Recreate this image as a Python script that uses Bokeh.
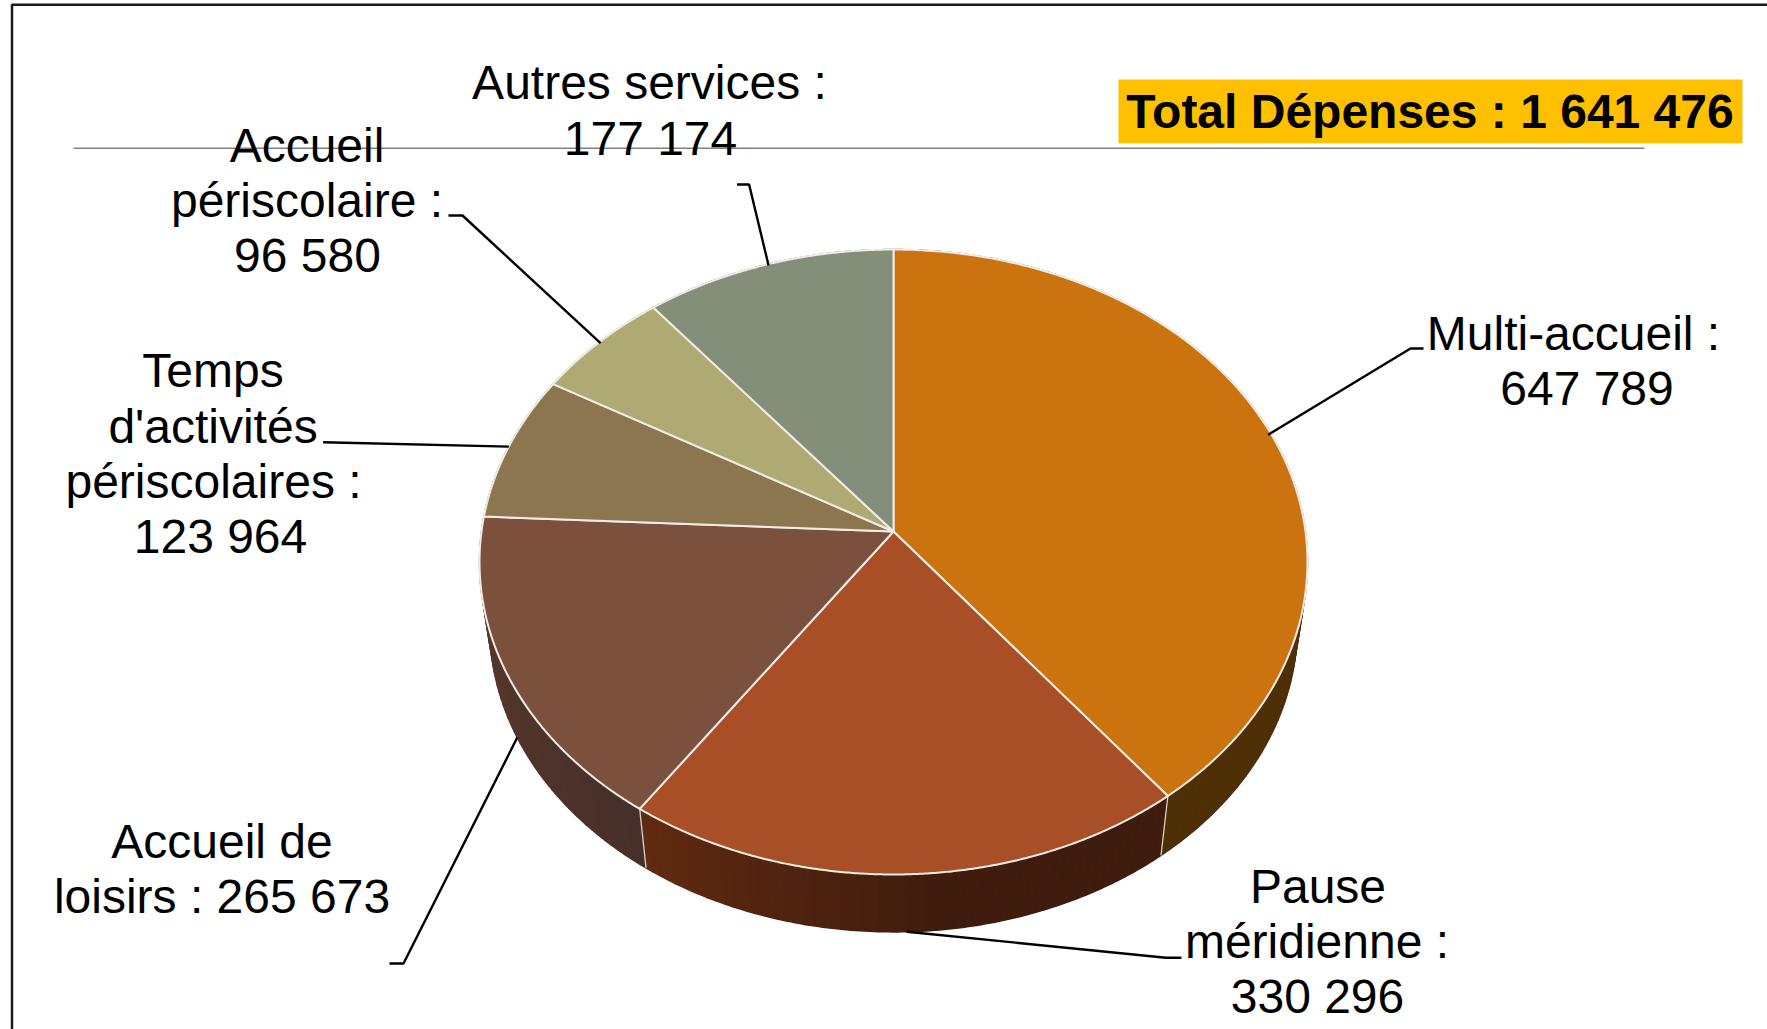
import numpy as np
from bokeh.plotting import figure
from bokeh.models import Range1d, ColumnDataSource
from bokeh.core.properties import value
from bokeh.embed import file_html
from bokeh.resources import INLINE

# --- data ---
categories = ["Multi-accueil", "Pause méridienne", "Accueil de loisirs",
              "Temps d'activités périscolaires", "Accueil périscolaire", "Autres services"]
values = [647789, 330296, 265673, 123964, 96580, 177174]
total_label = "Total Dépenses : 1 641 476"
top_colors = ["#CB730E", "#A84F27", "#7B503C", "#8B7650", "#AFA973", "#838F78"]
side_from = ["#4E2F06", "#3F1C0E", "#46302A", "#4A3A22", "#5A5638", "#44493C"]
side_to = ["#4E2F06", "#612B10", "#5F3A2B", "#4A3A22", "#5A5638", "#44493C"]
label_lines = [
    ["Multi-accueil :", "647 789"],
    ["Pause", "méridienne :", "330 296"],
    ["Accueil de", "loisirs : 265 673"],
    ["Temps", "d'activités", "périscolaires :", "123 964"],
    ["Accueil", "périscolaire :", "96 580"],
    ["Autres services :", "177 174"],
]

# --- layout ---
W, H = 1767, 1029
CX, CY = 893.0, 531.0
RX, RY, PERSP = 412.0, 309.5, 0.0976
BOTTOM_SCALE, DEPTH = 0.975, 66.0
LINE_STEP = 55.3
TEXT_SHIFT = -16.5
label_centers = [
    [1573, 1586.5],
    [1317.5, 1316.5, 1317],
    [221.5, 221.5],
    [212.5, 212.5, 213, 220],
    [306.5, 306.5, 307],
    [649, 650],
]
label_first_baseline = [349, 902.3, 857.3, 386.7, 161, 98.7]
# leader: label-side end, elbow, and whether the anchor sits on the lower rim
leader_ends = [(1423, 348), (1181, 957.3), (389, 963), (322.6, 441.7), (448, 215), (736.5, 184)]
leader_elbows = [(1410, 348), (1165.5, 957.3), (403, 963), (322.6, 441.7), (462, 215), (748.6, 184)]
leader_low = [False, True, True, False, False, False]
leader_inset = [0.992, 1.0, 1.0, 1.0, 0.995, 0.995]


def top_xy(theta, r=1.0):
    u, v = r * np.sin(theta), r * np.cos(theta)
    w = 1 + PERSP * v
    return CX + RX * u / w, CY - RY * v / w


def low_xy(theta):
    x, y = top_xy(theta)
    return CX + BOTTOM_SCALE * (x - CX), CY + BOTTOM_SCALE * (y - CY) + DEPTH


def hex2rgb(c):
    return np.array([int(c[i:i + 2], 16) for i in (1, 3, 5)], dtype=float)


def mix(a, b, t):
    r = hex2rgb(a) * (1 - t) + hex2rgb(b) * t
    return "#%02x%02x%02x" % tuple(int(round(c)) for c in r)


fractions = np.array(values, dtype=float) / sum(values)
edges = np.concatenate([[0.0], np.cumsum(fractions)]) * 2 * np.pi

p = figure(width=W, height=H, output_backend="svg", toolbar_location=None,
           x_range=Range1d(0, W), y_range=Range1d(H, 0),
           min_border=0, outline_line_color=None, background_fill_color="white",
           border_fill_color="white", x_axis_location=None, y_axis_location=None,
           styles={"position": "absolute", "left": "0px", "top": "0px"})
p.xgrid.visible = False
p.ygrid.visible = False

# frame and horizontal rule
p.line([11.5, 11.5, W], [H, 4.3, 4.3], line_color="#1a1a1a", line_width=2.5)
p.line([73, 1644], [147.7, 147.7], line_color="#808080", line_width=1.6)

# side wall, split in strips for the shading
sx, sy, sc = [], [], []
for i in range(len(values)):
    a0, a1 = edges[i], edges[i + 1]
    n = max(2, int((a1 - a0) / np.radians(1.2)))
    ts = np.linspace(a0, a1, n + 1)
    for j in range(n):
        f = (j + .5) / n
        t = max(0.0, (f - .45) / .55) if i == 1 else f
        c = mix(side_from[i], side_to[i], t)
        arc = np.linspace(ts[j], ts[j + 1], 3)
        xt, yt = top_xy(arc)
        xb, yb = low_xy(arc[::-1])
        sx.append(np.concatenate([xt, xb]))
        sy.append(np.concatenate([yt, yb]))
        sc.append(c)
p.patches(sx, sy, fill_color=sc, line_color=sc, line_width=1.5)

# wall edges between slices
for a in edges[1:3]:
    xa, ya = top_xy(a)
    xb, yb = low_xy(a)
    p.line([xa, xb], [ya, yb], line_color="#D8D2C8", line_width=1.3)

# top face
fx, fy = [], []
for i in range(len(values)):
    arc = np.linspace(edges[i], edges[i + 1], 240)
    xt, yt = top_xy(arc)
    fx.append(np.concatenate([[CX], xt]))
    fy.append(np.concatenate([[CY], yt]))
p.patches(fx, fy, fill_color=top_colors, line_color="#F0ECE6", line_width=2, line_join="round")

# leader lines
mx, my = [], []
for i in range(len(values)):
    mid = (edges[i] + edges[i + 1]) / 2
    ax, ay = low_xy(mid) if leader_low[i] else top_xy(mid, leader_inset[i])
    mx.append([leader_ends[i][0], leader_elbows[i][0], ax])
    my.append([leader_ends[i][1], leader_elbows[i][1], ay])
p.multi_line(mx, my, line_color="black", line_width=2.4)

# labels
tx, ty, tt = [], [], []
for i, lines in enumerate(label_lines):
    for k, s in enumerate(lines):
        tx.append(label_centers[i][k])
        ty.append(label_first_baseline[i] + k * LINE_STEP + TEXT_SHIFT)
        tt.append(s)
p.text(x="x", y="y", text="t", source=ColumnDataSource(dict(x=tx, y=ty, t=tt)),
       text_font=value("Liberation Sans"), text_font_size="48px", text_color="black",
       text_align="center", text_baseline="alphabetic")

# total badge
p.quad(left=[1118], right=[1742], top=[79], bottom=[142.7], fill_color="#FFC000", line_color=None)
p.text(x=[1429.5], y=[127.7 + TEXT_SHIFT], text=[total_label], text_font=value("Liberation Sans"),
       text_font_size="48px", text_font_style="bold", text_color="black",
       text_align="center", text_baseline="alphabetic")

open("out.html", "w").write(file_html(p, INLINE))
